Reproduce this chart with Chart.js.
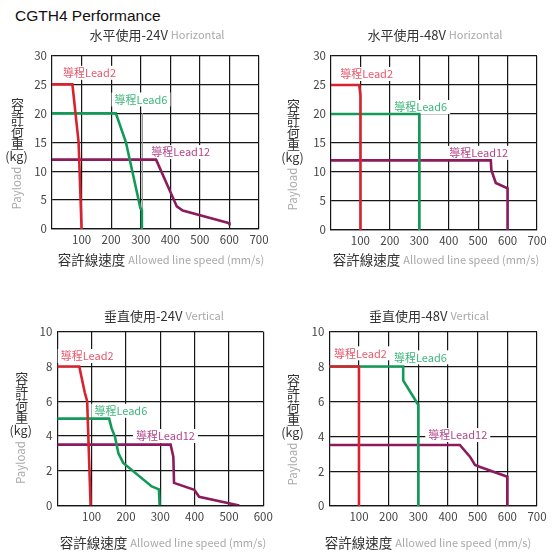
<!DOCTYPE html>
<html>
<head>
<meta charset="utf-8">
<script src="https://cdn.jsdelivr.net/npm/chart.js@4.4.0/dist/chart.umd.min.js"></script>
<style>
  html, body { margin: 0; padding: 0; background: #fff; width: 560px; height: 559px; overflow: hidden; }
  .box { position: absolute; }
  #mainTitle { position: absolute; left: 15px; top: 7px; line-height: 20px; font: 15.5px "Liberation Sans", Arial, sans-serif; color: #111; white-space: nowrap; }
</style>
</head>
<body>
<div id="mainTitle">CGTH4 Performance</div>
<div class="box" style="left:0;top:0;width:280px;height:280px"><canvas id="h24"></canvas></div>
<div class="box" style="left:280px;top:0;width:280px;height:280px"><canvas id="h48"></canvas></div>
<div class="box" style="left:0;top:280px;width:280px;height:279px"><canvas id="v24"></canvas></div>
<div class="box" style="left:280px;top:280px;width:280px;height:279px"><canvas id="v48"></canvas></div>
<script>
// speed (mm/s), payload (kg) pairs
const h24Lead2 = [[0, 25], [69, 25], [90, 15], [100, 0]];
const h24Lead6 = [[0, 20], [216, 20], [250, 15], [299, 3.6], [304, 3.2], [304, 0]];
const h24Lead12 = [[0, 12], [352, 12], [422, 3.9], [442, 3.2], [600, 1.0], [600, 0.6]];
const h24Guide = [[306, 20], [306, 0]];

const h48Lead2 = [[0, 25], [96, 25], [100, 23.2], [100, 0]];
const h48Lead6 = [[0, 20], [300, 20], [300, 0]];
const h48Lead12 = [[0, 12], [543, 12], [545, 10.3], [560, 8.1], [600, 7.2], [600, 0]];

const v24Lead2 = [[0, 8], [64, 8], [80, 6.5], [87, 6], [97, 0]];
const v24Lead6 = [[0, 5], [151, 5], [158, 4.45], [168, 3.95], [178, 3], [192, 2.45], [275, 1.1], [296, 0.93], [298, 0]];
const v24Lead12 = [[0, 3.5], [330, 3.5], [338, 2.8], [340, 1.3], [399, 0.9], [413, 0.5], [530, 0]];

const v48Lead2 = [[0, 8], [100, 8], [100, 0]];
const v48Lead6 = [[0, 8], [249, 8], [249, 7.2], [298, 5.85], [300, 5.8], [300, 0]];
const v48Lead12 = [[0, 3.5], [440, 3.5], [474, 2.83], [491, 2.35], [506, 2.25], [600, 1.68], [600, 0]];

const leadNames = ['導程Lead2', '導程Lead6', '導程Lead12'];
const xTicks700 = [100, 200, 300, 400, 500, 600, 700];
const xTicks600 = [100, 200, 300, 400, 500, 600];
const yTicks30 = [0, 5, 10, 15, 20, 25, 30];
const yTicks10 = [0, 2, 4, 6, 8, 10];

const CJK = '"Noto Sans CJK TC", "Noto Sans CJK JP", sans-serif';
const lineColors = ['#d8232f', '#139a58', '#8c1b5e'];
const labelColors = ['#e8566a', '#3cb67a', '#b2468a'];
const gridColor = '#161616';

Chart.defaults.font.family = CJK;

// draw several text pieces in a row, centred on cx
function drawRow(ctx, parts, cx, cy) {
  let total = 0;
  parts.forEach(p => { ctx.font = p.font; p.w = ctx.measureText(p.text).width; total += p.w; });
  let x = cx - total / 2;
  ctx.textBaseline = 'middle';
  ctx.textAlign = 'left';
  parts.forEach(p => {
    ctx.font = p.font;
    ctx.fillStyle = p.color;
    ctx.fillText(p.text, x, cy);
    x += p.w;
  });
}

const decorPlugin = {
  id: 'decor',
  beforeDatasetsDraw(chart, args, opts) {
    const ctx = chart.ctx;
    const xs = chart.scales.x, ys = chart.scales.y;
    ctx.save();
    ctx.font = '11px ' + CJK;
    ctx.textAlign = 'center';
    ctx.textBaseline = 'middle';
    opts.labels.forEach((l, i) => {
      const px = xs.getPixelForValue(l[0]);
      const py = ys.getPixelForValue(l[1]);
      const w = ctx.measureText(leadNames[i]).width;
      ctx.fillStyle = '#fff';
      ctx.fillRect(px - w / 2 - 3, py - 7, w + 6, 14);
      ctx.fillStyle = labelColors[i];
      ctx.fillText(leadNames[i], px, py);
    });
    ctx.restore();
  },
  afterDraw(chart, args, opts) {
    const ctx = chart.ctx;
    ctx.save();
    // chart title
    drawRow(ctx, [
      { text: opts.title + ' ', font: '13px ' + CJK, color: '#333' },
      { text: opts.titleEn, font: '11px ' + CJK, color: '#a9a9a9' }
    ], opts.titleX, opts.titleY);
    // x axis title
    drawRow(ctx, [
      { text: '容許線速度 ', font: '13.5px ' + CJK, color: '#333' },
      { text: 'Allowed line speed (mm/s)', font: '11px ' + CJK, color: '#a9a9a9' }
    ], opts.xTitleX, opts.xTitleY);
    // y axis title, upright characters stacked
    ctx.textAlign = 'center';
    ctx.textBaseline = 'middle';
    ctx.fillStyle = '#333';
    ctx.font = '13px ' + CJK;
    ['容', '許', '荷', '重'].forEach((c, i) => {
      ctx.fillText(c, opts.yTitleX, opts.yTitleY + i * 13);
    });
    ctx.font = '12.5px ' + CJK;
    ctx.fillText('(kg)', opts.yTitleX - 1, opts.yTitleY + 52);
    ctx.translate(opts.yTitleX - 1, opts.yTitleY + 84);
    ctx.rotate(-Math.PI / 2);
    ctx.fillStyle = '#a9a9a9';
    ctx.font = '11.5px ' + CJK;
    ctx.fillText('Payload', 0, 0);
    ctx.restore();
  }
};

function makeChart(id, cfg) {
  const datasets = cfg.series.map((pts, i) => ({
    label: leadNames[i],
    data: pts.map(p => ({ x: p[0], y: p[1] })),
    borderColor: lineColors[i],
    borderWidth: 2.6,
    pointRadius: 0,
    tension: 0,
    fill: false
  }));
  if (cfg.guide) {
    datasets.push({
      label: '',
      data: cfg.guide.map(p => ({ x: p[0], y: p[1] })),
      borderColor: '#9a9a9a',
      borderWidth: 1,
      pointRadius: 0,
      fill: false
    });
  }
  const axisStyle = {
    grid: { color: gridColor, lineWidth: 1.2, drawTicks: false },
    border: { display: true, color: gridColor, width: 1.2 },
  };
  return new Chart(document.getElementById(id), {
    type: 'line',
    data: { datasets: datasets },
    options: {
      responsive: true,
      maintainAspectRatio: false,
      animation: false,
      layout: { padding: { top: cfg.area.top, right: cfg.area.right, left: 0, bottom: 0 } },
      plugins: {
        legend: { display: false },
        tooltip: { enabled: false },
        decor: cfg.decor
      },
      scales: {
        x: Object.assign({
          type: 'linear',
          min: 0,
          max: cfg.xMax,
          afterBuildTicks: ax => { ax.ticks = cfg.xTicks.map(v => ({ value: v })); },
          afterFit: ax => { ax.height = cfg.area.bottom; },
          ticks: { color: '#444', font: { size: 11.5 }, padding: 4, maxRotation: 0, autoSkip: false }
        }, axisStyle),
        y: Object.assign({
          type: 'linear',
          min: 0,
          max: cfg.yMax,
          afterBuildTicks: ax => { ax.ticks = cfg.yTicks.map(v => ({ value: v })); },
          afterFit: ax => { ax.width = cfg.area.left; },
          ticks: { color: '#444', font: { size: 11.5 }, padding: 5, autoSkip: false }
        }, axisStyle)
      }
    },
    plugins: [decorPlugin]
  });
}

makeChart('h24', {
  series: [h24Lead2, h24Lead6, h24Lead12], guide: h24Guide,
  xMax: 700, yMax: 30, xTicks: xTicks700, yTicks: yTicks30,
  area: { left: 52, right: 21, top: 55.5, bottom: 51 },
  decor: {
    labels: [[127, 27], [301, 22.4], [435, 13.3]],
    title: '水平使用-24V', titleEn: 'Horizontal', titleX: 157, titleY: 35,
    xTitleX: 161, xTitleY: 260, yTitleX: 17.5, yTitleY: 104
  }
});

makeChart('h48', {
  series: [h48Lead2, h48Lead6, h48Lead12],
  xMax: 700, yMax: 30, xTicks: xTicks700, yTicks: yTicks30,
  area: { left: 51, right: 23, top: 56, bottom: 50 },
  decor: {
    labels: [[121, 26.9], [305, 21.2], [502, 13.3]],
    title: '水平使用-48V', titleEn: 'Horizontal', titleX: 155, titleY: 35,
    xTitleX: 156, xTitleY: 260, yTitleX: 13.5, yTitleY: 105
  }
});

makeChart('v24', {
  series: [v24Lead2, v24Lead6, v24Lead12],
  xMax: 600, yMax: 10, xTicks: xTicks600, yTicks: yTicks10,
  area: { left: 57.3, right: 16.7, top: 51.7, bottom: 53.5 },
  decor: {
    labels: [[87, 8.6], [185, 5.45], [315, 4.0]],
    title: '垂直使用-24V', titleEn: 'Vertical', titleX: 164, titleY: 36,
    xTitleX: 163, xTitleY: 263, yTitleX: 21.7, yTitleY: 98.5
  }
});

makeChart('v48', {
  series: [v48Lead2, v48Lead6, v48Lead12],
  xMax: 700, yMax: 10, xTicks: xTicks700, yTicks: yTicks10,
  area: { left: 49.3, right: 23, top: 51.7, bottom: 53 },
  decor: {
    labels: [[105, 8.76], [307, 8.53], [433, 4.07]],
    title: '垂直使用-48V', titleEn: 'Vertical', titleX: 149, titleY: 36,
    xTitleX: 148, xTitleY: 263, yTitleX: 13.5, yTitleY: 100
  }
});
</script>
</body>
</html>
